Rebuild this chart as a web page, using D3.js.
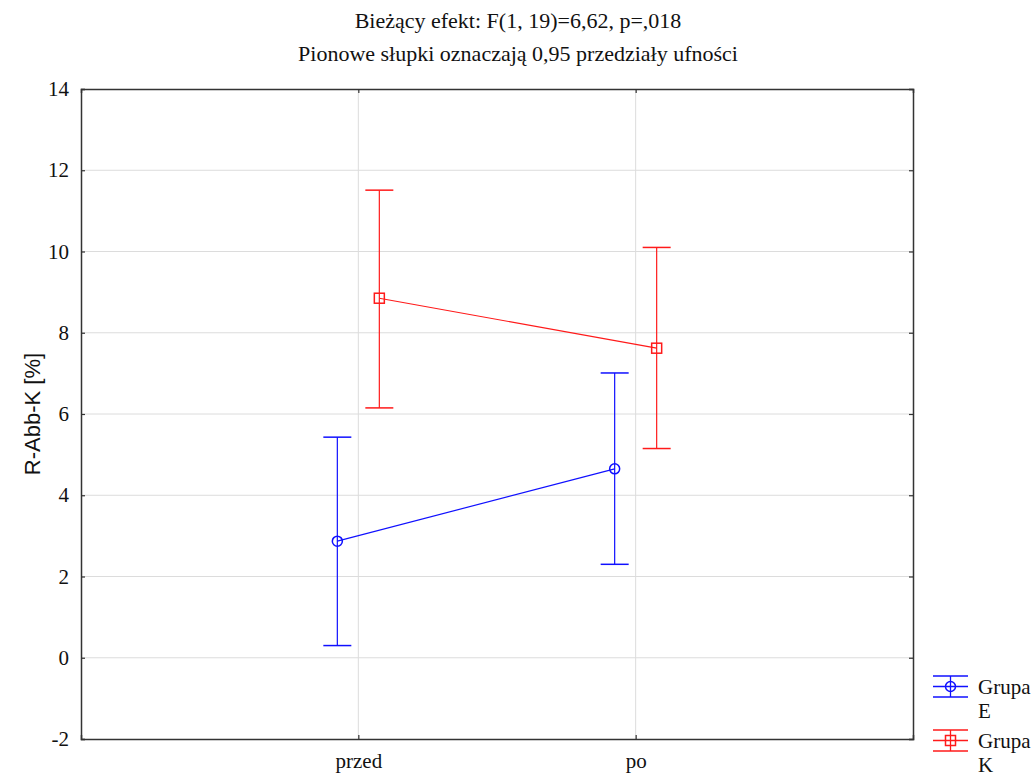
<!DOCTYPE html>
<html>
<head>
<meta charset="utf-8">
<script src="https://cdn.jsdelivr.net/npm/d3@7"></script>
<style>
  body { margin: 0; background: #fff; }
  svg { display: block; }
  svg text { font-family: "Liberation Serif", "Times New Roman", serif; }
</style>
</head>
<body>
<div id="chart"></div>
<script>
// data
const categories = ['przed', 'po'];
const groups = ['Grupa E', 'Grupa K'];
const meansE = [2.87, 4.65];
const lowerE = [0.30, 2.30];
const upperE = [5.43, 7.01];
const meansK = [8.85, 7.62];
const lowerK = [6.15, 5.15];
const upperK = [11.51, 10.10];
const yTicks = [-2, 0, 2, 4, 6, 8, 10, 12, 14];
const titleLines = ['Bieżący efekt: F(1, 19)=6,62, p=,018', 'Pionowe słupki oznaczają 0,95 przedziały ufności'];

const width = 1036, height = 777;
const margin = { top: 89, right: 123, bottom: 38, left: 81 };
const serif = '"Liberation Serif", "Times New Roman", serif';

const series = [
    { name: groups[0], color: '#1010ff', shape: 'circle', offset: -21, means: meansE, lo: lowerE, hi: upperE },
    { name: groups[1], color: '#ff1a1a', shape: 'square', offset: 21, means: meansK, lo: lowerK, hi: upperK }
];

const svg = d3.select('#chart').append('svg')
    .attr('width', width)
    .attr('height', height);

const x = d3.scalePoint()
    .domain(categories)
    .range([margin.left, width - margin.right])
    .padding(1);

const y = d3.scaleLinear()
    .domain([-2, 14])
    .range([height - margin.bottom, margin.top]);

// gridlines
svg.append('g')
    .selectAll('line')
    .data(yTicks.slice(1, -1))
    .join('line')
    .attr('x1', margin.left).attr('x2', width - margin.right)
    .attr('y1', d => y(d)).attr('y2', d => y(d))
    .attr('stroke', '#dcdcdc').attr('stroke-width', 1);

svg.append('g')
    .selectAll('line')
    .data(categories)
    .join('line')
    .attr('x1', d => x(d)).attr('x2', d => x(d))
    .attr('y1', margin.top).attr('y2', height - margin.bottom)
    .attr('stroke', '#dcdcdc').attr('stroke-width', 1);

// axes (ticks point inward)
const yAxis = svg.append('g')
    .attr('transform', `translate(${margin.left},0)`)
    .call(d3.axisLeft(y).tickValues(yTicks).tickSize(-4).tickPadding(12).tickFormat(d => String(d)));
const yAxisR = svg.append('g')
    .attr('transform', `translate(${width - margin.right},0)`)
    .call(d3.axisRight(y).tickValues(yTicks).tickSize(-4).tickFormat(''));
const xAxis = svg.append('g')
    .attr('transform', `translate(0,${height - margin.bottom})`)
    .call(d3.axisBottom(x).tickSize(-4).tickPadding(14));
const xAxisT = svg.append('g')
    .attr('transform', `translate(0,${margin.top})`)
    .call(d3.axisTop(x).tickSize(-4).tickFormat(''));

[yAxis, yAxisR, xAxis, xAxisT].forEach(a => {
    a.attr('font-family', serif).attr('font-size', 21);
    a.select('.domain').attr('stroke', '#333').attr('stroke-width', 1.5);
    a.selectAll('.tick line').attr('stroke', '#333').attr('stroke-width', 1.2);
    a.selectAll('text').attr('fill', '#111');
});

// titles, centred on the whole picture
svg.append('g')
    .attr('font-family', serif)
    .attr('font-size', 22)
    .selectAll('text')
    .data(titleLines)
    .join('text')
    .attr('x', width / 2)
    .attr('y', (d, i) => 28 + i * 33)
    .attr('text-anchor', 'middle')
    .attr('fill', '#111')
    .text(d => d);

svg.append('text')
    .attr('transform', `translate(40,${(margin.top + height - margin.bottom) / 2}) rotate(-90)`)
    .attr('text-anchor', 'middle')
    .style('font-family', '"Liberation Sans", Arial, sans-serif')
    .attr('font-size', 22)
    .attr('fill', '#111')
    .text('R-Abb-K [%]');

// series
const cap = 14;
function marker(g, shape, color, cx, cy) {
    if (shape === 'circle') {
        g.append('circle').attr('cx', cx).attr('cy', cy).attr('r', 5)
            .attr('fill', 'none').attr('stroke', color).attr('stroke-width', 1.5);
    } else {
        g.append('rect').attr('x', cx - 5).attr('y', cy - 5).attr('width', 10).attr('height', 10)
            .attr('fill', 'none').attr('stroke', color).attr('stroke-width', 1.5);
    }
}

series.forEach(s => {
    const g = svg.append('g');
    const pts = categories.map((c, i) => ({ x: x(c) + s.offset, m: s.means[i], lo: s.lo[i], hi: s.hi[i] }));

    pts.forEach(p => {
        g.append('line').attr('x1', p.x).attr('x2', p.x).attr('y1', y(p.lo)).attr('y2', y(p.hi))
            .attr('stroke', s.color).attr('stroke-width', 1.2);
        [p.lo, p.hi].forEach(v => {
            g.append('line').attr('x1', p.x - cap).attr('x2', p.x + cap).attr('y1', y(v)).attr('y2', y(v))
                .attr('stroke', s.color).attr('stroke-width', 1.5);
        });
    });

    g.append('path')
        .datum(pts)
        .attr('fill', 'none')
        .attr('stroke', s.color)
        .attr('stroke-width', 1.2)
        .attr('d', d3.line().x(d => d.x).y(d => y(d.m)));

    pts.forEach(p => marker(g, s.shape, s.color, p.x, y(p.m)));
});

// legend
const legend = svg.append('g').attr('transform', 'translate(933,676)');
series.forEach((s, i) => {
    const g = legend.append('g').attr('transform', `translate(0,${i * 54})`);
    [0, 10.5, 21].forEach(dy => {
        g.append('line').attr('x1', 0).attr('x2', 35).attr('y1', dy).attr('y2', dy)
            .attr('stroke', s.color).attr('stroke-width', 1.3);
    });
    g.append('line').attr('x1', 17.5).attr('x2', 17.5).attr('y1', 0).attr('y2', 21)
        .attr('stroke', s.color).attr('stroke-width', 1.3);
    marker(g, s.shape, s.color, 17.5, 10.5);
    const words = s.name.split(' ');
    g.selectAll('text.lbl')
        .data(words)
        .join('text')
        .attr('class', 'lbl')
        .attr('x', 45)
        .attr('y', (d, j) => 18 + j * 24)
        .attr('font-size', 21)
        .attr('fill', '#111')
        .text(d => d);
});
</script>
</body>
</html>
